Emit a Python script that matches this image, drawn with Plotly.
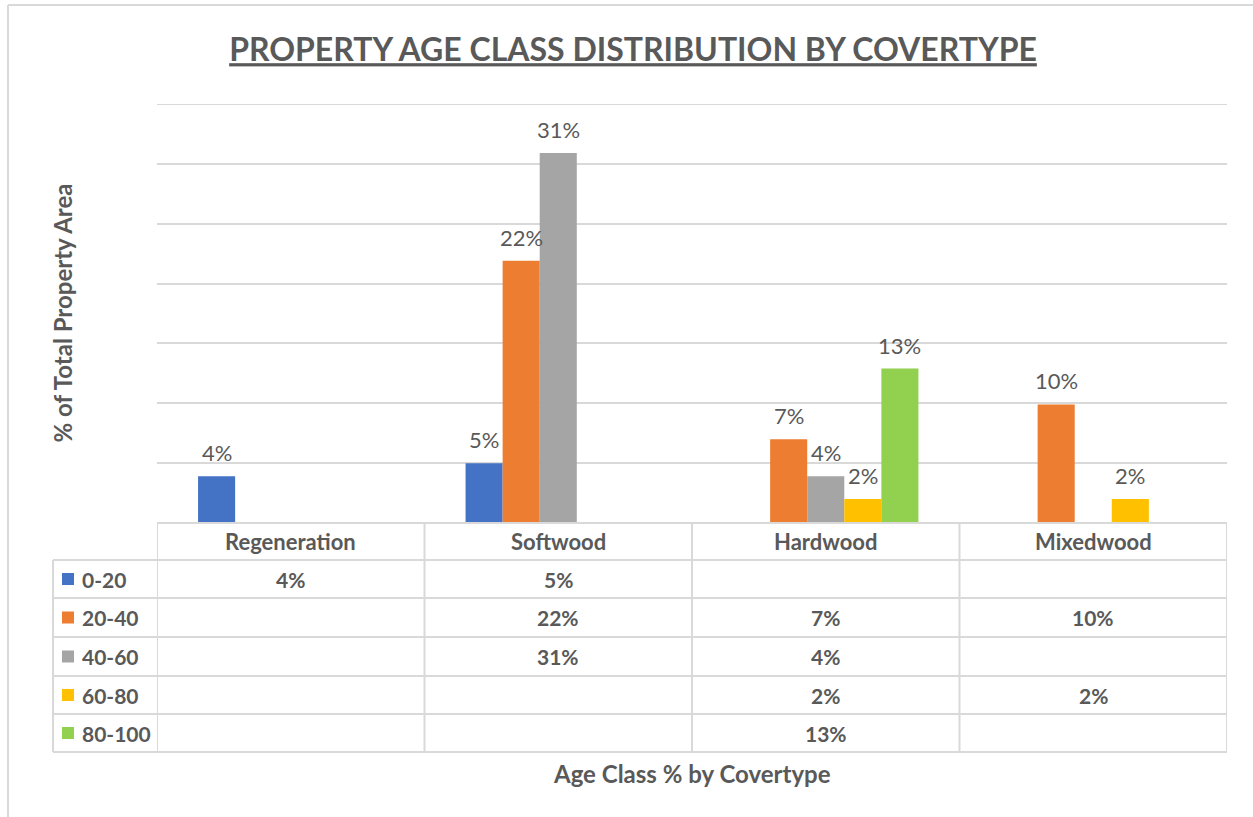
import plotly.graph_objects as go

# ---------------- data ----------------
categories = ["Regeneration", "Softwood", "Hardwood", "Mixedwood"]
age_classes = ["0-20", "20-40", "40-60", "60-80", "80-100"]
vals_0_20 = [3.9, 5.0, None, None]
vals_20_40 = [None, 21.9, 7.0, 9.9]
vals_40_60 = [None, 30.9, 3.9, None]
vals_60_80 = [None, None, 2.0, 2.0]
vals_80_100 = [None, None, 12.9, None]
series = [vals_0_20, vals_20_40, vals_40_60, vals_60_80, vals_80_100]
colors = ["#4472C4", "#ED7D31", "#A5A5A5", "#FFC000", "#92D050"]

title_text = "PROPERTY AGE CLASS DISTRIBUTION BY COVERTYPE"
y_title = "% of Total Property Area"
x_title = "Age Class % by Covertype"

# ---------------- layout geometry (pixels) ----------------
FW, FH = 1253, 817
L, R, T, B = 157, 1227, 104, 523
PW, PH = R - L, B - T
TXT = "#595959"
GRID = "#D9D9D9"
FONT = "Lato, Open Sans, sans-serif"
BARGAP = 0.307
Y_MAX = 35


def px(x):
    return (x - L) / PW


def py(y):
    return (B - y) / PH


row_lines = [523, 560, 598, 637, 676, 714, 752]
table_left = 53

fig = go.Figure()
for name, vals, col in zip(age_classes, series, colors):
    fig.add_trace(go.Bar(
        x=categories, y=vals, name=name,
        marker=dict(color=col, line=dict(width=0)),
        cliponaxis=False,
    ))

annotations = []
# data labels above bars, placed via axis scales
n_series = len(series)
slot = (1 - BARGAP) / n_series
for i, vals in enumerate(series):
    off = (i - (n_series - 1) / 2) * slot
    for ci, v in enumerate(vals):
        if v is None:
            continue
        annotations.append(dict(xref="x", yref="y", x=ci + off, y=v,
                                xanchor="center", yanchor="bottom", yshift=8,
                                text=f"{round(v):d}%", showarrow=False,
                                font=dict(family=FONT, size=22, color=TXT)))

shapes = []
# outer frame
shapes.append(dict(type="line", xref="paper", yref="paper",
                   x0=px(8), x1=px(FW + 5), y0=py(5), y1=py(5),
                   line=dict(color=GRID, width=2)))
shapes.append(dict(type="line", xref="paper", yref="paper",
                   x0=px(8), x1=px(8), y0=py(5), y1=py(FH + 5),
                   line=dict(color=GRID, width=2)))
# top gridline (at axis max)
shapes.append(dict(type="line", xref="paper", yref="y", x0=0, x1=1, y0=Y_MAX, y1=Y_MAX,
                   line=dict(color=GRID, width=2), layer="below"))
# table horizontal lines
for i, yl in enumerate(row_lines):
    x0 = L if i == 0 else table_left
    shapes.append(dict(type="line", xref="paper", yref="paper",
                       x0=px(x0), x1=1, y0=py(yl), y1=py(yl),
                       line=dict(color=GRID, width=2)))
# table vertical lines at category boundaries
for k in range(len(categories) + 1):
    shapes.append(dict(type="line", xref="x", yref="paper",
                       x0=k - 0.5, x1=k - 0.5, y0=py(row_lines[0]), y1=py(row_lines[-1]),
                       line=dict(color=GRID, width=2)))
shapes.append(dict(type="line", xref="paper", yref="paper",
                   x0=px(table_left), x1=px(table_left), y0=py(row_lines[1]), y1=py(row_lines[-1]),
                   line=dict(color=GRID, width=2)))

# header
for c in categories:
    annotations.append(dict(xref="x", yref="paper", x=c,
                            y=py((row_lines[0] + row_lines[1]) / 2),
                            xanchor="center", yanchor="middle",
                            text=f"<b>{c}</b>", showarrow=False,
                            font=dict(family=FONT, size=22, color=TXT)))
# rows
for r, (name, vals, col) in enumerate(zip(age_classes, series, colors)):
    ymid = (row_lines[r + 1] + row_lines[r + 2]) / 2
    shapes.append(dict(type="rect", xref="paper", yref="paper",
                       x0=px(62), x1=px(74), y0=py(ymid - 6), y1=py(ymid + 6),
                       fillcolor=col, line=dict(width=0)))
    annotations.append(dict(xref="paper", yref="paper", x=px(80), y=py(ymid),
                            xanchor="left", yanchor="middle",
                            text=f"<b>{name}</b>", showarrow=False,
                            font=dict(family=FONT, size=21, color=TXT)))
    for c, v in zip(categories, vals):
        if v is not None:
            annotations.append(dict(xref="x", yref="paper", x=c, y=py(ymid),
                                    xanchor="center", yanchor="middle",
                                    text=f"<b>{round(v):d}%</b>", showarrow=False,
                                    font=dict(family=FONT, size=21, color=TXT)))
# axis titles
annotations.append(dict(xref="paper", yref="paper", x=px(62), y=0.5,
                        xanchor="center", yanchor="middle",
                        text=f"<b>{y_title}</b>", textangle=-90, showarrow=False,
                        font=dict(family=FONT, size=24, color=TXT)))
annotations.append(dict(xref="paper", yref="paper", x=0.5, y=py(773),
                        xanchor="center", yanchor="middle",
                        text=f"<b>{x_title}</b>", showarrow=False,
                        font=dict(family=FONT, size=24, color=TXT)))

fig.update_layout(
    width=FW, height=FH,
    margin=dict(l=L, r=FW - R, t=T, b=FH - B, pad=0),
    paper_bgcolor="white", plot_bgcolor="white",
    barmode="group", bargap=BARGAP, bargroupgap=0,
    showlegend=False,
    title=dict(text=f"<b><u>{title_text}</u></b>", xref="container", yref="container",
               x=633 / FW, y=1 - 50 / FH, xanchor="center", yanchor="middle",
               font=dict(family=FONT, size=32, color=TXT)),
    xaxis=dict(showticklabels=False, ticks="", showgrid=False, zeroline=False,
               showline=False, range=[-0.5, 3.5]),
    yaxis=dict(range=[0, Y_MAX], dtick=5, showticklabels=False, ticks="",
               showgrid=True, gridcolor=GRID, gridwidth=2, zeroline=False, showline=False),
    shapes=shapes, annotations=annotations,
)

fig.write_html("out.html", config={"displayModeBar": False},
               post_script="document.body.style.margin='0px';document.body.style.overflow='hidden';")
